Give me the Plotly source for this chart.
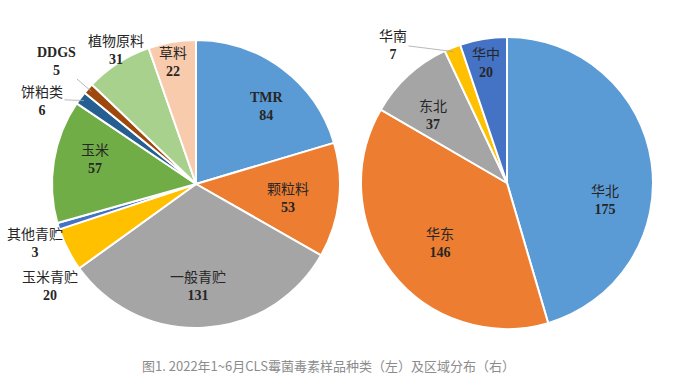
import math
import re
import plotly.graph_objects as go

left_labels = ["TMR", "颗粒料", "一般青贮", "玉米青贮", "其他青贮", "玉米", "饼粕类", "DDGS", "植物原料", "草料"]
left_values = [84, 53, 131, 20, 3, 57, 6, 5, 31, 22]
left_colors = ["#5B9BD5", "#ED7D31", "#A5A5A5", "#FFC000", "#4472C4", "#70AD47", "#255E91", "#9E480E", "#A9D18E", "#F8CBAD"]

right_labels = ["华北", "华东", "东北", "华南", "华中"]
right_values = [175, 146, 37, 7, 20]
right_colors = ["#5B9BD5", "#ED7D31", "#A5A5A5", "#FFC000", "#4472C4"]

caption = "图1. 2022年1~6月CLS霉菌毒素样品种类（左）及区域分布（右）"

# ---- layout / style (not data) ----
W, H = 679, 387
LEFT_PIE = dict(cx=196, cy=184, r=144)
RIGHT_PIE = dict(cx=507, cy=183, r=146)
# label placement relative to pie centre (px); leader=True draws a line to the slice edge
LEFT_LABEL_POS = {
    "TMR": (71, -78, False), "颗粒料": (92, 12, False), "一般青贮": (2, 100, False),
    "玉米青贮": (-146, 100, False), "其他青贮": (-161, 58, False), "玉米": (-101, -27, False),
    "饼粕类": (-154, -85, True), "DDGS": (-140, -123, True), "植物原料": (-80, -135, False),
    "草料": (-23, -124, False),
}
RIGHT_LABEL_POS = {
    "华北": (98, 15, False), "华东": (-67, 59, False), "东北": (-74, -70, False),
    "华南": (-114, -139, True), "华中": (-21, -121, False),
}
LATIN = "Liberation Serif"
CJK = "Noto Sans CJK SC"
LABEL_COLOR = "#262626"


def dom(p):
    cx, cy, r = p["cx"], p["cy"], p["r"]
    return dict(x=[(cx - r) / W, (cx + r) / W], y=[(H - cy - r) / H, (H - cy + r) / H])


def fmt(label, value):
    if re.search(r"[\u4e00-\u9fff]", label):
        first = f"<span style='font-family:{CJK}'>{label}</span>"
    else:
        first = f"<b>{label}</b>"
    return f"{first}<br><b>{value}</b>"


fig = go.Figure()
for labels, values, colors, p in [(left_labels, left_values, left_colors, LEFT_PIE),
                                  (right_labels, right_values, right_colors, RIGHT_PIE)]:
    fig.add_trace(go.Pie(
        labels=labels, values=values, sort=False, direction="clockwise", rotation=0,
        marker=dict(colors=colors, line=dict(color="white", width=2)),
        textinfo="none", domain=dom(p), showlegend=False, hoverinfo="label+value",
    ))


def add_labels(labels, values, p, posmap):
    total = sum(values)
    cum = 0
    for lab, val in zip(labels, values):
        mid = (cum + val / 2) / total * 2 * math.pi
        cum += val
        dx, dy, leader = posmap[lab]
        tx, ty = p["cx"] + dx, p["cy"] + dy
        font = dict(family=LATIN + ", " + CJK, size=14, color=LABEL_COLOR)
        if leader:
            ex = p["cx"] + p["r"] * 0.97 * math.sin(mid)
            ey = p["cy"] - p["r"] * 0.97 * math.cos(mid)
            fig.add_annotation(
                x=ex / W, y=(H - ey) / H, xref="paper", yref="paper",
                ax=tx - ex, ay=ty - ey, axref="pixel", ayref="pixel",
                text=fmt(lab, val), showarrow=True, arrowhead=0, arrowwidth=0.8,
                arrowcolor="#a6a6a6", standoff=0, font=font,
            )
        else:
            fig.add_annotation(
                x=tx / W, y=(H - ty) / H, xref="paper", yref="paper", showarrow=False,
                xanchor="center", yanchor="middle",
                text=fmt(lab, val), font=font,
            )


add_labels(left_labels, left_values, LEFT_PIE, LEFT_LABEL_POS)
add_labels(right_labels, right_values, RIGHT_PIE, RIGHT_LABEL_POS)

fig.add_annotation(text=caption, x=328 / W, y=(H - 365) / H, xref="paper", yref="paper",
                   xanchor="center", yanchor="middle",
                   showarrow=False, font=dict(family=CJK, size=13, color="#8c8c8c"))
fig.update_layout(width=W, height=H, margin=dict(l=0, r=0, t=0, b=0),
                  paper_bgcolor="white", plot_bgcolor="white")
fig.write_html("out.html", config={"displayModeBar": False},
               post_script="document.body.style.margin='0';document.body.style.overflow='hidden';")
